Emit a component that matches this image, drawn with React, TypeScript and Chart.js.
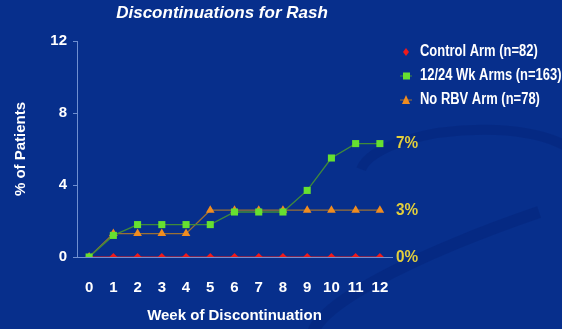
import React, { useEffect, useRef } from "react";
import { Chart, registerables } from "chart.js";

Chart.register(...registerables);

const weeks = ["0", "1", "2", "3", "4", "5", "6", "7", "8", "9", "10", "11", "12"];
const controlArm = [0, 0, 0, 0, 0, 0, 0, 0, 0, 0, 0, 0, 0];
const wkArms = [0, 1.2, 1.8, 1.8, 1.8, 1.8, 2.5, 2.5, 2.5, 3.7, 5.5, 6.3, 6.3];
const noRbvArm = [0, 1.3, 1.3, 1.3, 1.3, 2.6, 2.6, 2.6, 2.6, 2.6, 2.6, 2.6, 2.6];
const seriesNames = ["Control Arm (n=82)", "12/24 Wk Arms (n=163)", "No RBV Arm (n=78)"];
const endLabels = ["0%", "7%", "3%"];
const yTicks = [0, 4, 8, 12];

const BG = "#072f8c";
const FONT = "'Liberation Sans', Arial, sans-serif";

function narrowText(ctx: CanvasRenderingContext2D, text: string, x: number, y: number, sx: number) {
  ctx.save();
  ctx.translate(x, y);
  ctx.scale(sx, 1);
  ctx.fillText(text, 0, 0);
  ctx.restore();
}

export default function App() {
  const ref = useRef<HTMLCanvasElement | null>(null);
  useEffect(() => {
    document.body.style.margin = "0";
    const canvas = ref.current!;
    const bgPlugin = {
      id: "bg",
      beforeDraw(chart: any) {
        const { ctx, width, height } = chart;
        ctx.save();
        ctx.fillStyle = BG;
        ctx.fillRect(0, 0, width, height);
        ctx.strokeStyle = "rgba(0,25,100,0.22)";
        ctx.lineWidth = 12;
        ctx.beginPath();
        ctx.ellipse(600, 250, 300, 55, -0.3, Math.PI * 0.85, Math.PI * 1.45);
        ctx.stroke();
        ctx.lineWidth = 10;
        ctx.beginPath();
        ctx.ellipse(470, 170, 110, 40, -0.05, Math.PI * 1.05, Math.PI * 2.1);
        ctx.stroke();
        ctx.restore();
      },
      afterDraw(chart: any) {
        const { ctx } = chart;
        const ys = chart.scales.y;
        ctx.save();
        // title
        ctx.fillStyle = "#ffffff";
        ctx.font = `italic bold 17px ${FONT}`;
        ctx.textAlign = "center";
        ctx.textBaseline = "middle";
        ctx.fillText("Discontinuations for Rash", 222, 13);
        // legend
        const colors = ["#ee1a1a", "#66e030", "#f08c20"];
        const lineCols = ["#ee1a1a", "#3f8a3a", "#a07030"];
        const ly = [52, 76, 100];
        ctx.font = `bold 16px ${FONT}`;
        ctx.textAlign = "left";
        for (let i = 0; i < 3; i++) {
          ctx.strokeStyle = lineCols[i];
          ctx.lineWidth = 1;
          if (i > 0) {
            ctx.beginPath();
            ctx.moveTo(400, ly[i]);
            ctx.lineTo(412, ly[i]);
            ctx.stroke();
          }
          ctx.fillStyle = colors[i];
          ctx.beginPath();
          if (i === 0) {
            ctx.moveTo(406, ly[i] - 4); ctx.lineTo(409, ly[i]); ctx.lineTo(406, ly[i] + 4); ctx.lineTo(403, ly[i]);
          } else if (i === 1) {
            ctx.rect(403, ly[i] - 3.5, 7, 7);
          } else {
            ctx.moveTo(406, ly[i] - 5); ctx.lineTo(410, ly[i] + 4); ctx.lineTo(402, ly[i] + 4);
          }
          ctx.closePath();
          ctx.fill();
          ctx.fillStyle = "#ffffff";
          narrowText(ctx, seriesNames[i], 420, ly[i], 0.81);
        }
        // end labels
        ctx.fillStyle = "#e3cf3c";
        ctx.font = `bold 17px ${FONT}`;
        const ends = [controlArm, wkArms, noRbvArm];
        for (let i = 0; i < 3; i++) {
          const v = ends[i][ends[i].length - 1];
          narrowText(ctx, endLabels[i], 396, ys.getPixelForValue(v), 0.9);
        }
        ctx.restore();
      },
    };
    const chart = new Chart(canvas, {
      type: "line",
      data: {
        labels: weeks,
        datasets: [
          {
            label: seriesNames[1],
            data: wkArms,
            borderColor: "#3f8a3a",
            backgroundColor: "#66e030",
            borderWidth: 1.3,
            pointStyle: "rect",
            pointRadius: 5,
            pointBorderWidth: 0,
            pointBorderColor: "#66e030",
          },
          {
            label: seriesNames[2],
            data: noRbvArm,
            borderColor: "#9a7035",
            backgroundColor: "#f08c20",
            borderWidth: 1.3,
            pointStyle: "triangle",
            pointRadius: 5,
            pointBorderWidth: 0,
            pointBorderColor: "#f08c20",
          },
          {
            label: seriesNames[0],
            data: controlArm,
            borderColor: "#ee1a1a",
            backgroundColor: "#ee1a1a",
            borderWidth: 1.2,
            pointStyle: "rectRot",
            pointRadius: 4,
            pointBorderWidth: 0,
            pointBorderColor: "#ee1a1a",
          },
        ],
      },
      options: {
        animation: false,
        responsive: false,
        maintainAspectRatio: false,
        layout: { padding: { top: 41, right: 170, left: 0, bottom: 0 } },
        plugins: { legend: { display: false }, tooltip: { enabled: false }, title: { display: false } },
        scales: {
          x: {
            type: "category",
            offset: true,
            grid: { display: false, drawOnChartArea: false },
            border: { display: true, color: "#6f8fd0", width: 1 },
            ticks: { color: "#ffffff", font: { family: FONT, size: 15, weight: "bold" }, padding: 14, maxRotation: 0 },
            title: { display: true, text: "Week of Discontinuation", color: "#ffffff", font: { family: FONT, size: 15, weight: "bold" }, padding: { top: 8 } },
            afterFit(s: any) { s.height = 72; },
          },
          y: {
            min: 0,
            max: 12,
            afterBuildTicks(s: any) { s.ticks = yTicks.map((v) => ({ value: v })); },
            grid: { display: true, drawOnChartArea: false, drawTicks: true, tickLength: 4, color: "#6f8fd0" },
            border: { display: true, color: "#6f8fd0", width: 1 },
            ticks: { color: "#ffffff", font: { family: FONT, size: 15, weight: "bold" }, padding: 6 },
            title: { display: true, text: "% of Patients", color: "#ffffff", font: { family: FONT, size: 15, weight: "bold" }, padding: { top: 12, bottom: 4 } },
            afterFit(s: any) { s.width = 77; },
          },
        },
      },
      plugins: [bgPlugin],
    } as any);
    return () => chart.destroy();
  }, []);
  return <canvas ref={ref} width={562} height={329} style={{ display: "block" }} />;
}
